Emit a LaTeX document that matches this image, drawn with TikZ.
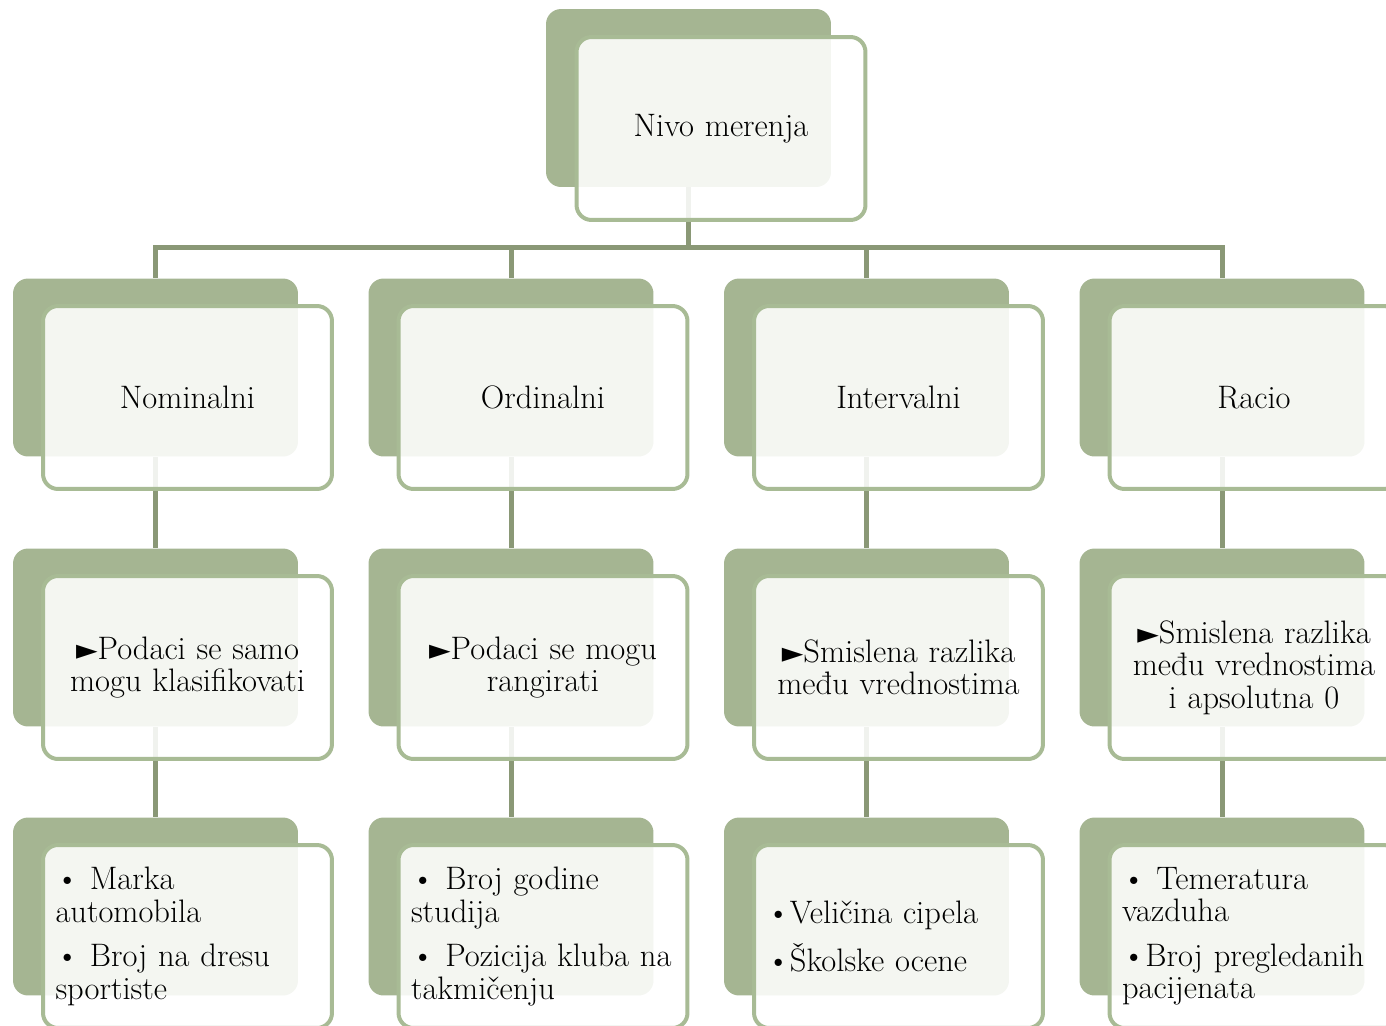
\documentclass[tikz,border=0pt]{standalone}
\usepackage{fontspec}
\newfontfamily\symfont{DejaVu Sans}
\usetikzlibrary{backgrounds}

\definecolor{backgreen}{RGB}{165,181,146}
\definecolor{rimgreen}{RGB}{168,187,149}
\definecolor{linkgreen}{RGB}{138,152,118}
\newcommand{\triarrow}{{\symfont\fontsize{16}{16}\selectfont ►}}

\begin{document}
\begin{tikzpicture}[x=0.02cm, y=-0.02cm,
    back/.style={fill=backgreen, rounded corners=0.3cm, inner sep=0pt,
                 minimum width=5.7cm, minimum height=3.56cm},
    front/.style={draw=rimgreen, line width=0.08cm, fill=white,
                  fill opacity=0.88, text opacity=1, rounded corners=0.3cm,
                  minimum width=5.78cm, minimum height=3.66cm,
                  inner xsep=0.25cm, text width=5.28cm,
                  font=\fontsize{18.5}{18.4}\selectfont},
    link/.style={draw=linkgreen, line width=0.1cm}]
    \useasboundingbox (0,0) rectangle (1386,1025);
    \clip (0,0) rectangle (1386,1025);

    % Top level
    \node [back] (topback) at (688.5, 98) {};
    \node [front, align=center] (top) at (721, 128.5) {Nivo merenja};

    % Levels
    \foreach \i/\txt in {0/Nominalni, 1/Ordinalni, 2/Intervalni, 3/Racio} {
      \node [back] (lvlback\i) at ({155.5+355.5*\i}, 367.5) {};
      \node [front, align=center] (lvl\i) at ({187.5+355.5*\i}, 397.5) {\txt};
    }

    % Descriptions
    \foreach \i/\txt in {
        0/{\triarrow Podaci se samo\\mogu klasifikovati},
        1/{\triarrow Podaci se mogu\\rangirati},
        2/{\triarrow Smislena razlika\\među vrednostima},
        3/{\triarrow Smislena razlika\\među vrednostima\\i apsolutna 0}} {
      \node [back] (descback\i) at ({155.5+355.5*\i}, 637.5) {};
      \node [front, align=center] (desc\i) at ({187.5+355.5*\i}, 667.5) {\txt};
    }

    % Examples
    \foreach \i/\txt in {
        0/{\textbullet{} Marka\\automobila\\[7pt]\textbullet{} Broj na dresu\\sportiste},
        1/{\textbullet{} Broj godine\\studija\\[7pt]\textbullet{} Pozicija kluba na\\takmičenju},
        2/{\textbullet Veličina cipela\\[7pt]\textbullet Školske ocene},
        3/{\textbullet{} Temeratura\\vazduha\\[7pt]\textbullet Broj pregledanih\\pacijenata}} {
      \node [back] (exback\i) at ({155.5+355.5*\i}, 906.5) {};
      \node [front, align=left] (ex\i) at ({187.5+355.5*\i}, 936.5) {\txt};
    }

    % Connections
    \begin{scope}[on background layer]
      \coordinate (bus) at (688.5, 247);
      \draw [link] (topback.south) -- (bus);
      \foreach \i in {0, ..., 3} {
        \draw [link] (bus) -| (lvlback\i.north);
        \draw [link] (lvlback\i.south) -- (descback\i.north);
        \draw [link] (descback\i.south) -- (exback\i.north);
      }
    \end{scope}
\end{tikzpicture}
\end{document}
